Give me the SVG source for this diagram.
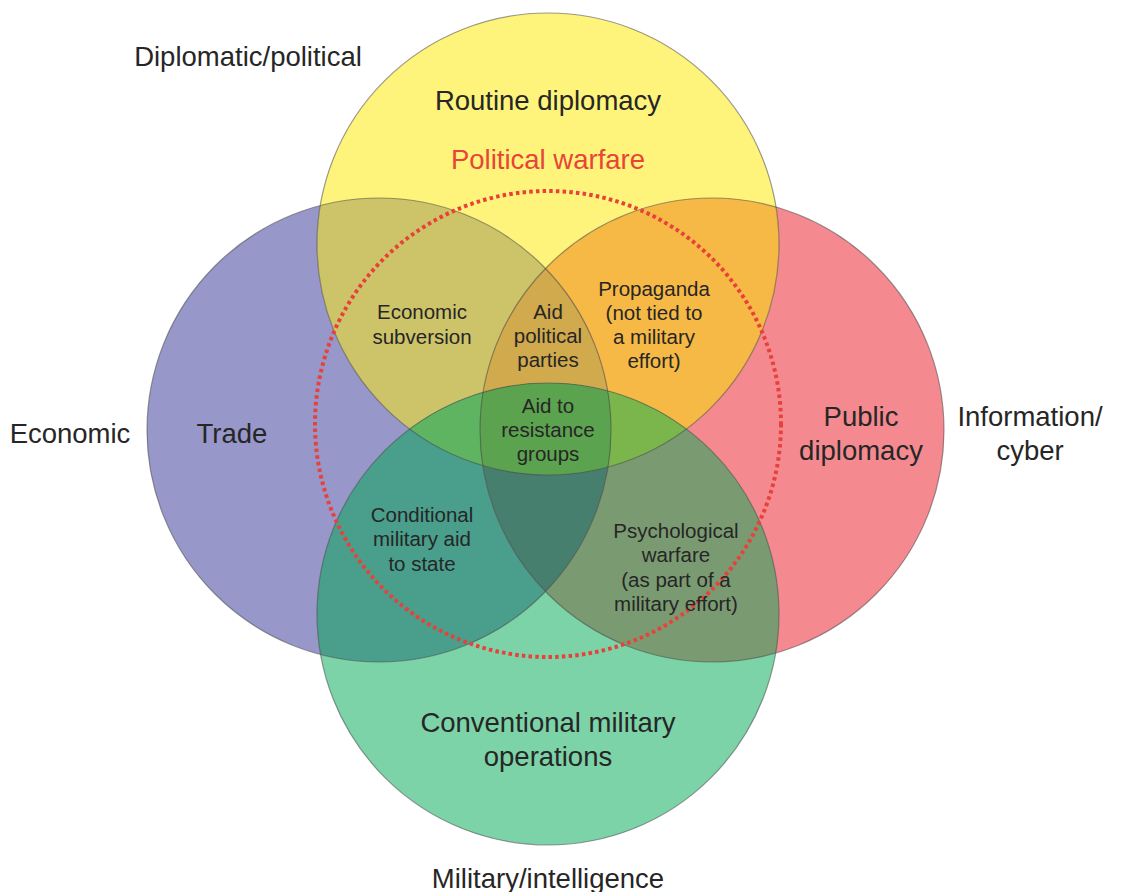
<svg xmlns="http://www.w3.org/2000/svg" width="1122" height="892" viewBox="0 0 1122 892">
<style>
.lbl{font-family:"Liberation Sans",Arial,sans-serif;fill:#262626;text-anchor:middle}
.big{font-size:27.5px}
.sm{font-size:20.5px}
.red{fill:#E8443A}
.edge{fill:none;stroke:#4a4a4a;stroke-opacity:.55;stroke-width:1.2}
</style>
<defs>
<clipPath id="cY"><circle cx="548" cy="244" r="231"/></clipPath>
<clipPath id="cP"><circle cx="379" cy="430" r="232"/></clipPath>
<clipPath id="cR"><circle cx="712" cy="430" r="232"/></clipPath>
<clipPath id="cG"><circle cx="548" cy="614" r="231"/></clipPath>
</defs>
<rect width="1122" height="892" fill="#ffffff"/>

<g id="circle-economic"><circle cx="379" cy="430" r="232" fill="#9797C9"/></g>
<g id="circle-information"><circle cx="712" cy="430" r="232" fill="#F48A90"/></g>
<g id="circle-military"><circle cx="548" cy="614" r="231" fill="#7DD3A8"/></g>
<g id="circle-diplomatic"><circle cx="548" cy="244" r="231" fill="#FFF47B"/></g>

<g id="overlaps">
<g clip-path="url(#cY)"><circle cx="379" cy="430" r="232" fill="#CDC46A"/></g>
<g clip-path="url(#cY)"><circle cx="712" cy="430" r="232" fill="#F7B945"/></g>
<g clip-path="url(#cY)"><circle cx="548" cy="614" r="231" fill="#6CB85A"/></g>
<g clip-path="url(#cP)"><circle cx="548" cy="614" r="231" fill="#499E8C"/></g>
<g clip-path="url(#cR)"><circle cx="548" cy="614" r="231" fill="#7A9B71"/></g>
<g clip-path="url(#cP)"><circle cx="712" cy="430" r="232" fill="#C49A80"/></g>
<g clip-path="url(#cY)"><g clip-path="url(#cP)"><circle cx="712" cy="430" r="232" fill="#D0AA4C"/></g></g>
<g clip-path="url(#cY)"><g clip-path="url(#cP)"><circle cx="548" cy="614" r="231" fill="#5FB462"/></g></g>
<g clip-path="url(#cY)"><g clip-path="url(#cR)"><circle cx="548" cy="614" r="231" fill="#7BB64D"/></g></g>
<g clip-path="url(#cP)"><g clip-path="url(#cR)"><circle cx="548" cy="614" r="231" fill="#477F6F"/></g></g>
<g clip-path="url(#cY)"><g clip-path="url(#cP)"><g clip-path="url(#cR)"><circle cx="548" cy="614" r="231" fill="#5CA34F"/></g></g></g>
</g>

<g id="outlines">
<circle class="edge" cx="379" cy="430" r="232"/>
<circle class="edge" cx="712" cy="430" r="232"/>
<circle class="edge" cx="548" cy="614" r="231"/>
<circle class="edge" cx="548" cy="244" r="231"/>
</g>

<g id="political-warfare">
<circle cx="548" cy="424" r="233" fill="none" stroke="#E8413A" stroke-width="4" stroke-dasharray="3.5 3.2"/>
<text class="lbl big red" x="548" y="169">Political warfare</text>
</g>

<g id="labels">
<text class="lbl big" x="248" y="66">Diplomatic/political</text>
<text class="lbl big" x="548" y="110">Routine diplomacy</text>
<text class="lbl big" x="70" y="443">Economic</text>
<text class="lbl big" x="232" y="443">Trade</text>
<text class="lbl big" x="861" y="426">Public</text>
<text class="lbl big" x="861" y="460">diplomacy</text>
<text class="lbl big" x="1030" y="426">Information/</text>
<text class="lbl big" x="1030" y="460">cyber</text>
<text class="lbl big" x="548" y="732">Conventional military</text>
<text class="lbl big" x="548" y="766">operations</text>
<text class="lbl big" x="548" y="888">Military/intelligence</text>

<text class="lbl sm" x="422" y="319">Economic</text>
<text class="lbl sm" x="422" y="344">subversion</text>

<text class="lbl sm" x="548" y="319">Aid</text>
<text class="lbl sm" x="548" y="343">political</text>
<text class="lbl sm" x="548" y="367">parties</text>

<text class="lbl sm" x="654" y="296">Propaganda</text>
<text class="lbl sm" x="654" y="320">(not tied to</text>
<text class="lbl sm" x="654" y="344">a military</text>
<text class="lbl sm" x="654" y="368">effort)</text>

<text class="lbl sm" x="548" y="413">Aid to</text>
<text class="lbl sm" x="548" y="437">resistance</text>
<text class="lbl sm" x="548" y="461">groups</text>

<text class="lbl sm" x="422" y="522">Conditional</text>
<text class="lbl sm" x="422" y="546">military aid</text>
<text class="lbl sm" x="422" y="571">to state</text>

<text class="lbl sm" x="676" y="538">Psychological</text>
<text class="lbl sm" x="676" y="562">warfare</text>
<text class="lbl sm" x="676" y="587">(as part of a</text>
<text class="lbl sm" x="676" y="611">military effort)</text>
</g>
</svg>
